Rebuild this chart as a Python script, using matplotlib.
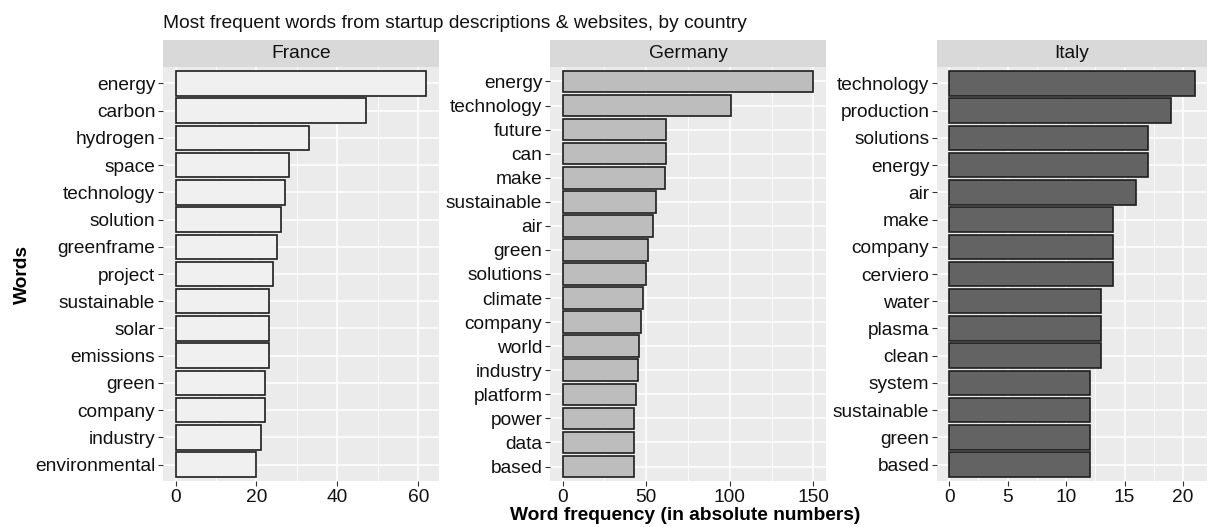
import matplotlib
matplotlib.use("Agg")
import matplotlib.pyplot as plt
from matplotlib.ticker import FixedLocator

plt.rcParams['font.family'] = ['Liberation Sans', 'DejaVu Sans']

title = "Most frequent words from startup descriptions & websites, by country"
countries = ["France", "Germany", "Italy"]

france_words = ["energy", "carbon", "hydrogen", "space", "technology", "solution",
                "greenframe", "project", "sustainable", "solar", "emissions", "green",
                "company", "industry", "environmental"]
france_counts = [62, 47, 33, 28, 27, 26, 25, 24, 23, 23, 23, 22, 22, 21, 20]

germany_words = ["energy", "technology", "future", "can", "make", "sustainable", "air",
                 "green", "solutions", "climate", "company", "world", "industry",
                 "platform", "power", "data", "based"]
germany_counts = [150, 101, 62, 62, 61, 56, 54, 51, 50, 48, 47, 46, 45, 44, 43, 43, 43]

italy_words = ["technology", "production", "solutions", "energy", "air", "make",
               "company", "cerviero", "water", "plasma", "clean", "system",
               "sustainable", "green", "based"]
italy_counts = [21, 19, 17, 17, 16, 14, 14, 14, 13, 13, 13, 12, 12, 12, 12]

fills = ["#F0F0F0", "#BDBDBD", "#636363"]
x_breaks = [[0, 20, 40, 60], [0, 50, 100, 150], [0, 5, 10, 15, 20]]

W, H = 1210, 527
fig = plt.figure(figsize=(W / 100, H / 100), dpi=100)

panel_x = [(163, 439), (550, 826), (937, 1207)]
panel_top, panel_bot = 67, 481
strip_top = 40
FS = 13.8

data = [(france_words, france_counts), (germany_words, germany_counts), (italy_words, italy_counts)]

for k, ((words, counts), (x0, x1)) in enumerate(zip(data, panel_x)):
    ax = fig.add_axes([x0 / W, (H - panel_bot) / H, (x1 - x0) / W, (panel_bot - panel_top) / H])
    n = len(words)
    pos = list(range(n))
    ax.set_facecolor("#EBEBEB")
    ax.barh(pos, counts, height=0.9, color=fills[k], edgecolor="#1e1e1e", linewidth=1.2, zorder=3)
    vmax = max(counts)
    ax.set_xlim(-0.05 * vmax, 1.05 * vmax)
    ax.set_ylim(n - 1 + 0.6, -0.6)
    ax.set_yticks(pos)
    ax.set_yticklabels(words)
    br = x_breaks[k]
    ax.xaxis.set_major_locator(FixedLocator(br))
    step = br[1] - br[0]
    ax.xaxis.set_minor_locator(FixedLocator([b + step / 2 for b in br]))
    ax.grid(which="major", color="white", linewidth=1.1, zorder=1)
    ax.grid(which="minor", axis="x", color="white", linewidth=0.55, zorder=1)
    for s in ax.spines.values():
        s.set_visible(False)
    ax.tick_params(axis="both", which="major", length=3.5, width=0.8, color="#333333",
                   labelsize=FS, labelcolor="#111111", pad=2)
    ax.tick_params(axis="x", which="minor", length=0)
    # strip
    sax = fig.add_axes([x0 / W, (H - panel_top) / H, (x1 - x0) / W, (panel_top - strip_top) / H])
    sax.set_facecolor("#D9D9D9")
    sax.set_xticks([])
    sax.set_yticks([])
    for s in sax.spines.values():
        s.set_visible(False)
    sax.text(0.5, 0.5, countries[k], ha="center", va="center", fontsize=FS,
             color="#111111", transform=sax.transAxes)

fig.text(163 / W, 1 - 23 / H, title, ha="left", va="center", fontsize=FS, color="#111111")
fig.text(685 / W, 1 - 516 / H, "Word frequency (in absolute numbers)", ha="center", va="center",
         fontsize=FS, fontweight="bold", color="black")
fig.text(22 / W, 1 - 274 / H, "Words", ha="center", va="center", rotation=90,
         fontsize=FS, fontweight="bold", color="black")

fig.savefig("out.png", dpi=100)
